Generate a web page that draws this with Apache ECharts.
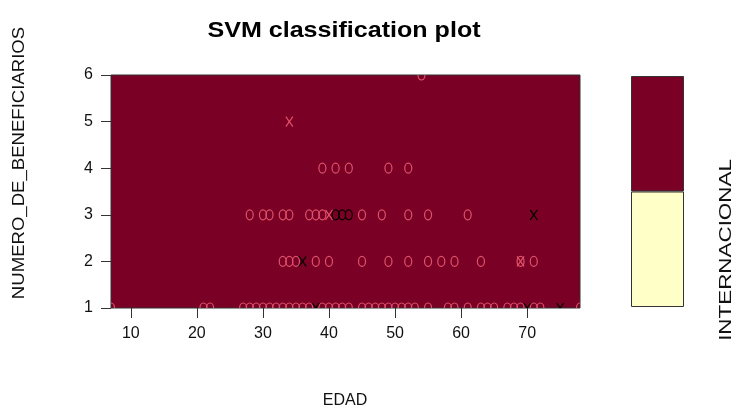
<!DOCTYPE html>
<html>
<head>
<meta charset="utf-8">
<script src="https://cdn.jsdelivr.net/npm/echarts@6/dist/echarts.min.js"></script>
<style>
  html, body { margin: 0; padding: 0; background: #fff; }
  #chart { width: 734px; height: 416px; }
</style>
</head>
<body>
<div id="chart"></div>
<script>
// EDAD / NUMERO_DE_BENEFICIARIOS pairs
var pinkCircles = [
  [54, 6],
  [39, 4], [41, 4], [43, 4], [49, 4], [52, 4],
  [28, 3], [30, 3], [31, 3], [33, 3], [34, 3], [37, 3], [38, 3], [39, 3],
  [45, 3], [48, 3], [52, 3], [55, 3], [61, 3],
  [33, 2], [34, 2], [35, 2], [38, 2], [40, 2], [45, 2], [49, 2], [52, 2],
  [55, 2], [57, 2], [59, 2], [63, 2], [69, 2], [71, 2],
  [7, 1], [21, 1], [22, 1], [27, 1], [28, 1], [29, 1], [30, 1], [31, 1],
  [32, 1], [33, 1], [34, 1], [35, 1], [36, 1], [37, 1], [39, 1], [40, 1],
  [41, 1], [42, 1], [43, 1], [45, 1], [46, 1], [47, 1], [48, 1], [49, 1],
  [50, 1], [51, 1], [52, 1], [53, 1], [55, 1], [58, 1], [59, 1], [61, 1],
  [63, 1], [64, 1], [65, 1], [67, 1], [68, 1], [69, 1], [71, 1], [72, 1],
  [78, 1]
];
var pinkCrosses = [[34, 5], [40, 3], [69, 2]];
var blackCircles = [[41, 3], [42, 3], [43, 3]];
var blackCrosses = [[71, 3], [36, 2], [38, 1], [70, 1], [75, 1]];

var xTicks = [10, 20, 30, 40, 50, 60, 70];
var classLevels = ['1', '2'];
var classColors = ['#FFFFC8', '#7B0025'];

var chart = echarts.init(document.getElementById('chart'));

// "o" and "x" glyph-like marks, clipped to the plot box like in R
function pointSeries(data, kind, color) {
  return {
    type: 'custom',
    xAxisIndex: 0,
    yAxisIndex: 0,
    data: data,
    clip: true,
    silent: true,
    encode: { x: 0, y: 1 },
    renderItem: function (params, api) {
      var p = api.coord([api.value(0), api.value(1)]);
      var st = { stroke: color, lineWidth: 1.2, fill: null };
      if (kind === 'o') {
        return { type: 'ellipse', shape: { cx: p[0], cy: p[1], rx: 3.5, ry: 5 }, style: st };
      }
      return {
        type: 'group',
        children: [
          { type: 'line', shape: { x1: p[0] - 3.5, y1: p[1] - 5, x2: p[0] + 3.5, y2: p[1] + 5 }, style: st },
          { type: 'line', shape: { x1: p[0] + 3.5, y1: p[1] - 5, x2: p[0] - 3.5, y2: p[1] + 5 }, style: st }
        ]
      };
    }
  };
}

chart.setOption({
  animation: false,
  backgroundColor: '#fff',
  textStyle: { fontFamily: 'Liberation Sans, Arial, sans-serif' },
  grid: [
    { left: 111, top: 75, width: 469, height: 233, show: true,
      backgroundColor: classColors[1], borderColor: '#333', borderWidth: 1 },
    { left: 631, top: 76, width: 53, height: 231 }
  ],
  xAxis: [
    { type: 'value', gridIndex: 0, min: 7, max: 78,
      splitLine: { show: false },
      axisLine: { show: false },
      axisTick: { show: true, length: 10, customValues: xTicks, lineStyle: { color: '#333' } },
      axisLabel: { customValues: xTicks, fontSize: 16, color: '#111', margin: 18 } },
    { type: 'value', gridIndex: 1, min: 0, max: 1, show: false }
  ],
  yAxis: [
    { type: 'value', gridIndex: 0, min: 1, max: 6, interval: 1,
      splitLine: { show: false },
      axisLine: { show: false },
      axisTick: { show: true, length: 10, lineStyle: { color: '#333' } },
      axisLabel: { fontSize: 16, color: '#111', margin: 18 } },
    { type: 'category', gridIndex: 1, data: classLevels, position: 'right',
      axisLine: { show: false },
      axisTick: { show: true, alignWithLabel: true, length: 12, lineStyle: { color: '#333' } },
      axisLabel: { show: false } }
  ],
  graphic: [
    { type: 'text', x: 344, y: 31, scaleX: 1.14, style: { text: 'SVM classification plot',
      font: 'bold 22px Liberation Sans', fill: '#000', align: 'center', verticalAlign: 'middle' } },
    { type: 'text', x: 345, y: 401, style: { text: 'EDAD', font: '16px Liberation Sans',
      fill: '#111', align: 'center', verticalAlign: 'middle' } },
    { type: 'text', x: 20, y: 163, rotation: Math.PI / 2, scaleX: 1.16, style: { text: 'NUMERO_DE_BENEFICIARIOS',
      font: '16px Liberation Sans', fill: '#111', align: 'center', verticalAlign: 'middle' } },
    { type: 'text', x: 727, y: 250, rotation: Math.PI / 2, scaleX: 1.4, style: { text: 'INTERNACIONAL',
      font: '16px Liberation Sans', fill: '#111', align: 'center', verticalAlign: 'middle' } }
  ],
  series: [
    { type: 'bar', xAxisIndex: 1, yAxisIndex: 1, barWidth: '100%', silent: true,
      data: classLevels.map(function (c, i) {
        return { value: 1, itemStyle: { color: classColors[i], borderColor: '#333', borderWidth: 1 } };
      }) },
    pointSeries(pinkCircles, 'o', '#DF536B'),
    pointSeries(pinkCrosses, 'x', '#DF536B'),
    pointSeries(blackCircles, 'o', '#000'),
    pointSeries(blackCrosses, 'x', '#000')
  ]
});
</script>
</body>
</html>
